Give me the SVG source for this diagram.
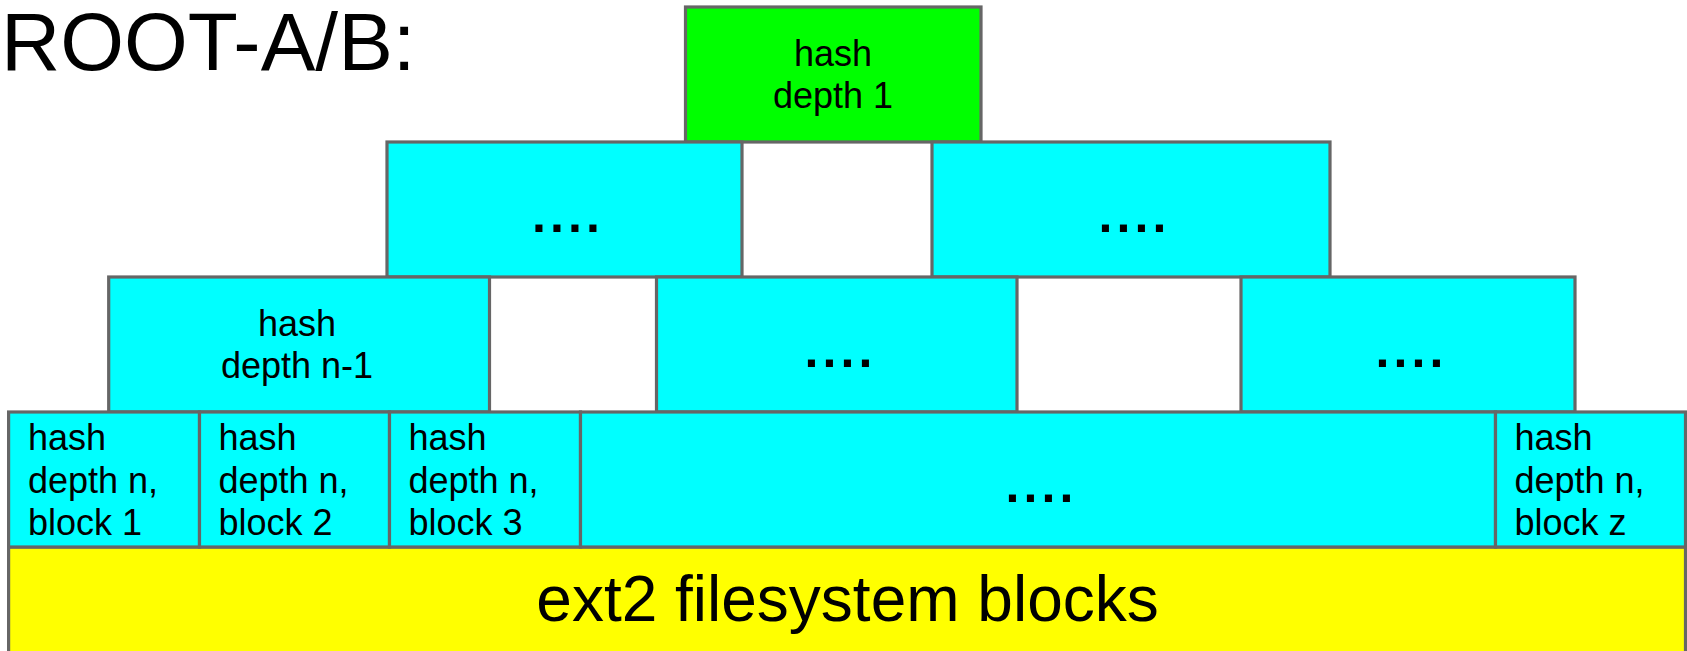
<svg xmlns="http://www.w3.org/2000/svg" width="1687" height="651" viewBox="0 0 1687 651">
<style>
  .box { stroke: #666666; stroke-width: 3.2; }
  .cyan { fill: #00ffff; }
  .green { fill: #00ff00; }
  .yellow { fill: #ffff00; }
  .t { font-family: "Liberation Sans", Arial, sans-serif; font-size: 36px; fill: #000000; }
  .c { text-anchor: middle; }
  .dots { font-family: "Liberation Sans", Arial, sans-serif; font-size: 50px; font-weight: bold; letter-spacing: 4.1px; fill: #000000; }
</style>
<rect x="0" y="0" width="1687" height="651" fill="#ffffff"/>
<g id="title">
  <text x="1" y="70" font-family="Liberation Sans, Arial, sans-serif" font-size="82" fill="#000000">ROOT-A/B:</text>
</g>
<g id="connectors"></g>
<g id="ext2">
  <rect class="box yellow" x="8.6" y="547" width="1676.9" height="120"/>
  <text class="t c" x="847.5" y="621" style="font-size:64px">ext2 filesystem blocks</text>
</g>
<g id="depth1">
  <rect class="box green" x="685.5" y="7" width="295.5" height="135"/>
  <text class="t c" x="833" y="65.5">hash</text>
  <text class="t c" x="833" y="108">depth 1</text>
</g>
<g id="row2a">
  <rect class="box cyan" x="387" y="142" width="355" height="135"/>
  <text class="dots" x="532" y="232">....</text>
</g>
<g id="row2b">
  <rect class="box cyan" x="932" y="142" width="398" height="135"/>
  <text class="dots" x="1098.5" y="232">....</text>
</g>
<g id="depthn1">
  <rect class="box cyan" x="108.7" y="277" width="380.8" height="135"/>
  <text class="t c" x="297" y="335.7">hash</text>
  <text class="t c" x="297" y="378">depth n-1</text>
</g>
<g id="row3d">
  <rect class="box cyan" x="656.5" y="277" width="360.5" height="135"/>
  <text class="dots" x="804.5" y="367">....</text>
</g>
<g id="row3e">
  <rect class="box cyan" x="1241" y="277" width="334" height="135"/>
  <text class="dots" x="1375.5" y="367">....</text>
</g>
<g id="block1">
  <rect class="box cyan" x="8.6" y="412" width="190.9" height="135"/>
  <text class="t" x="28" y="450">hash</text>
  <text class="t" x="28" y="492.5">depth n,</text>
  <text class="t" x="28" y="535">block 1</text>
</g>
<g id="block2">
  <rect class="box cyan" x="199.5" y="412" width="190" height="135"/>
  <text class="t" x="218.5" y="450">hash</text>
  <text class="t" x="218.5" y="492.5">depth n,</text>
  <text class="t" x="218.5" y="535">block 2</text>
</g>
<g id="block3">
  <rect class="box cyan" x="389.5" y="412" width="191" height="135"/>
  <text class="t" x="408.5" y="450">hash</text>
  <text class="t" x="408.5" y="492.5">depth n,</text>
  <text class="t" x="408.5" y="535">block 3</text>
</g>
<g id="blocksmid">
  <rect class="box cyan" x="580.5" y="412" width="915" height="135"/>
  <text class="dots" x="1005.5" y="502">....</text>
</g>
<g id="blockz">
  <rect class="box cyan" x="1495.5" y="412" width="190" height="135"/>
  <text class="t" x="1514.5" y="450">hash</text>
  <text class="t" x="1514.5" y="492.5">depth n,</text>
  <text class="t" x="1514.5" y="535">block z</text>
</g>
</svg>
